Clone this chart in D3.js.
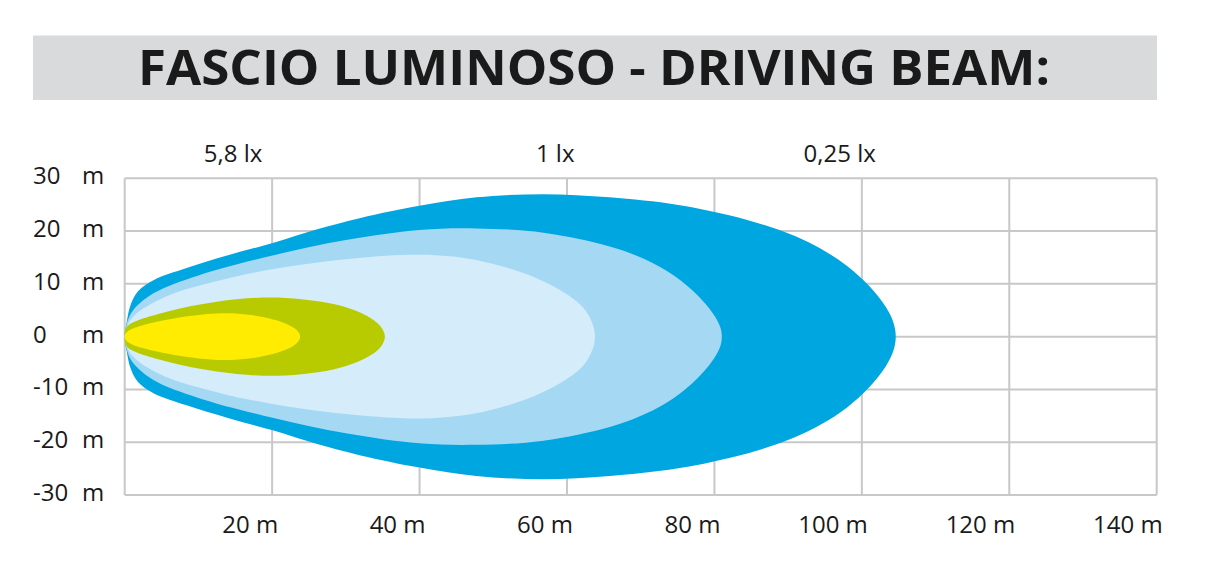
<!DOCTYPE html>
<html>
<head>
<meta charset="utf-8">
<script src="https://cdn.jsdelivr.net/npm/d3@7"></script>
<style>
  html, body { margin: 0; padding: 0; background: #fff; }
  text { font-family: "Open Sans", "DejaVu Sans", sans-serif; fill: #1a1a1a; }
</style>
</head>
<body>
<svg id="chart" width="1220" height="583"></svg>
<script>
// data (metres)
const titleText = "FASCIO LUMINOSO - DRIVING BEAM:";
const xTicks = [0, 20, 40, 60, 80, 100, 120, 140];
const xTickLabels = ["", "20 m", "40 m", "60 m", "80 m", "100 m", "120 m", "140 m"];
const yTicks = [30, 20, 10, 0, -10, -20, -30];
const yTickLabels = ["30", "20", "10", "0", "-10", "-20", "-30"];
const luxLabels = ["5,8 lx", "1 lx", "0,25 lx"];
const luxAt = [14.7, 58.4, 97];

// upper half of each isolux contour [distance, half width], mirrored below
const beam025 = [[0, 0], [0.3, 3], [0.8, 6], [1.8, 8.6], [3.9, 10.7], [8.4, 13], [14, 15.4], [20.2, 17.8],
  [26, 20.3], [32, 22.5], [40, 24.8], [47.7, 26.4], [56.8, 27], [65.8, 26.4], [74.9, 25], [82, 23],
  [87.1, 21], [91, 19], [94.5, 16.6], [98, 13.4], [101, 9.6], [103.3, 5.5], [104.3, 2.6], [104.6, 0]];
const beam1 = [[0, 0], [0.4, 3], [1.2, 5.1], [3.9, 8.2], [10, 11.6], [20.2, 15.4], [30, 18.3], [40, 20.2],
  [47.7, 20.5], [56.8, 19.7], [65.8, 17.1], [70.5, 14.7], [74.5, 11.6], [77.6, 8], [79.8, 4.4], [80.8, 1.8], [81, 0]];
const beamMid = [[0, 0], [0.5, 2.5], [1.6, 4.4], [6.1, 7.9], [13, 10.7], [20.2, 12.8], [31, 14.8], [40, 15.5],
  [46, 14.9], [51, 13.4], [55.5, 11.3], [59.2, 8.7], [62, 5.8], [63.3, 3], [63.8, 0]];
const beamGreen = [[0, 0], [0.3, 1.9], [5.7, 4.7], [12.5, 6.6], [18.8, 7.4], [24, 7.1], [28.3, 6.2],
  [31.2, 5.0], [33.4, 3.5], [34.8, 1.8], [35.3, 0]];
const beam58 = [[0, 0], [0.5, 1.1], [5.7, 3.2], [12.5, 4.4], [16.5, 4.2], [19.5, 3.5], [21.8, 2.5],
  [23.3, 1.3], [23.8, 0]];

const beams = [beam025, beam1, beamMid, beamGreen, beam58];
const beamColors = ["#00a6e0", "#a5d9f3", "#d5ecfa", "#b8cb00", "#ffec00"];

const svg = d3.select("#chart");

const x = d3.scaleLinear().domain([0, 140]).range([124.7, 1156.7]);
const y = d3.scaleLinear().domain([-30, 30]).range([495, 178.3]);

// title band
svg.append("rect")
  .attr("x", 33).attr("y", 35.5)
  .attr("width", 1124).attr("height", 64.5)
  .attr("fill", "#d9dadb");

svg.append("text")
  .attr("x", 138).attr("y", 85)
  .attr("font-size", "48px")
  .attr("font-weight", "bold")
  .attr("textLength", 912)
  .attr("lengthAdjust", "spacingAndGlyphs")
  .text(titleText);

// grid
const grid = svg.append("g")
  .attr("stroke", "#c8c8c8")
  .attr("stroke-width", 2);

grid.selectAll(".vline")
  .data(xTicks)
  .enter().append("line")
  .attr("x1", d => x(d)).attr("x2", d => x(d))
  .attr("y1", y(30)).attr("y2", y(-30));

grid.selectAll(".hline")
  .data(yTicks)
  .enter().append("line")
  .attr("x1", x(0)).attr("x2", x(140))
  .attr("y1", d => y(d)).attr("y2", d => y(d));

// beam contours
const line = d3.line()
  .x(d => x(d[0]))
  .y(d => y(d[1]))
  .curve(d3.curveCatmullRomClosed.alpha(0.5));

function outline(half) {
  const lower = half.slice(1, -1).map(d => [d[0], -d[1]]).reverse();
  return half.concat(lower);
}

svg.append("g")
  .selectAll("path")
  .data(beams)
  .enter().append("path")
  .attr("d", d => line(outline(d)))
  .attr("fill", (d, i) => beamColors[i]);

// y labels
const yl = svg.append("g").attr("font-size", "24px");
yl.selectAll(".num")
  .data(yTicks)
  .enter().append("text")
  .attr("x", 33)
  .attr("y", d => y(d) + 6)
  .text((d, i) => yTickLabels[i]);
yl.selectAll(".unit")
  .data(yTicks)
  .enter().append("text")
  .attr("x", 82)
  .attr("y", d => y(d) + 6)
  .text("m");

// x labels
svg.append("g").attr("font-size", "24px")
  .selectAll("text")
  .data(xTicks)
  .enter().append("text")
  .attr("x", d => x(d) + 6)
  .attr("y", 533)
  .attr("text-anchor", "end")
  .text((d, i) => xTickLabels[i]);

// lux labels
svg.append("g").attr("font-size", "24px")
  .selectAll("text")
  .data(luxLabels)
  .enter().append("text")
  .attr("x", (d, i) => x(luxAt[i]))
  .attr("y", 162)
  .attr("text-anchor", "middle")
  .text(d => d);
</script>
</body>
</html>
